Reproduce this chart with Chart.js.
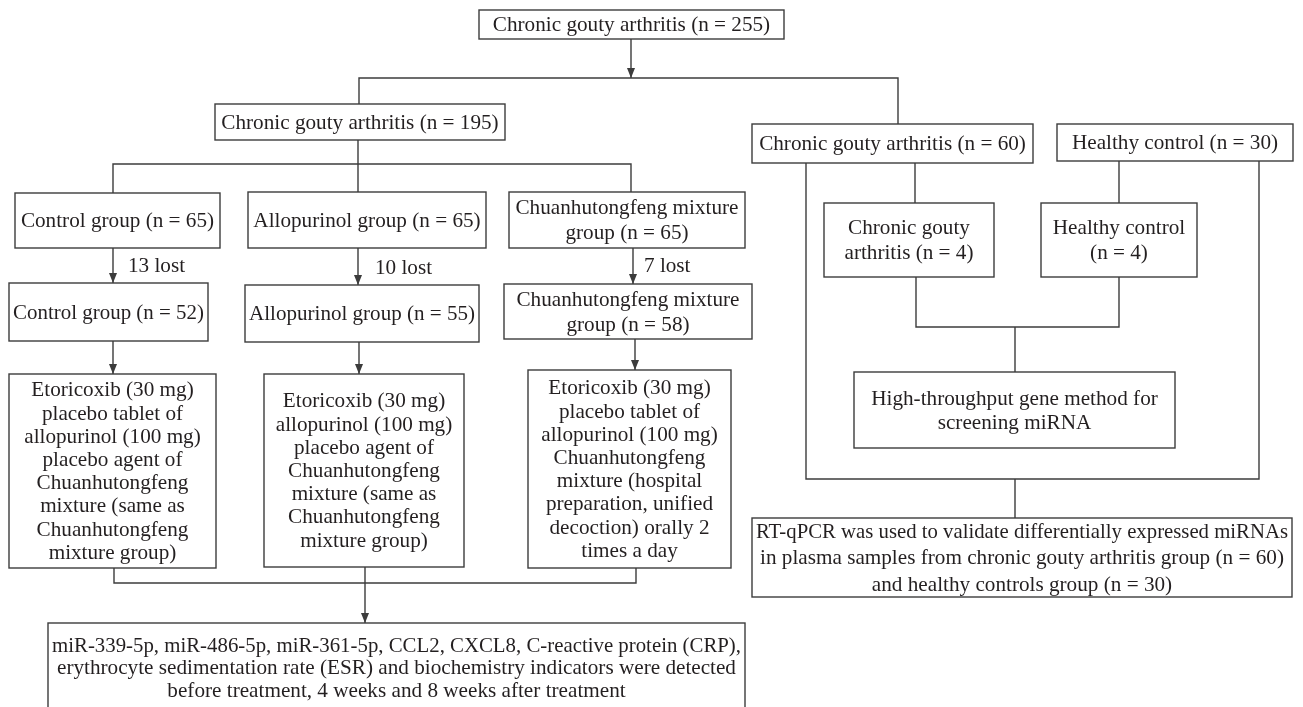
<!DOCTYPE html>
<html>
<head>
<meta charset="utf-8">
<script src="https://cdn.jsdelivr.net/npm/chart.js@4/dist/chart.umd.min.js"></script>
<style>
  body { margin: 0; background: #fff; }
  #flow { display: block; }
</style>
</head>
<body>
<canvas id="flow" width="1303" height="707"></canvas>
<script>
// 흐름도 데이터
var groups = ["Control group", "Allopurinol group", "Chuanhutongfeng mixture group"];
var enrolled = [65, 65, 65];
var lost = [13, 10, 7];
var completed = [52, 55, 58];
var totalN = 255;
var trialN = 195;
var screenGroups = ["Chronic gouty arthritis", "Healthy control"];
var screenN = [60, 30];
var seqN = [4, 4];

var INK = "#231f20";
var LINE = "#3c3c3c";
var FONT = "21.2px 'Liberation Serif', 'DejaVu Serif', serif";

function nTxt(n) { return "(n = " + n + ")"; }

// boxes: x0, x1, y0, y1 in diagram units, text lines, line height
var boxes = [
  { x0: 479, x1: 784, y0: 10, y1: 39, lines: ["Chronic gouty arthritis " + nTxt(totalN)] },
  { x0: 215, x1: 505, y0: 104, y1: 140, lines: ["Chronic gouty arthritis " + nTxt(trialN)] },
  { x0: 752, x1: 1033, y0: 124, y1: 163, lines: [screenGroups[0] + " " + nTxt(screenN[0])] },
  { x0: 1057, x1: 1293, y0: 124, y1: 161, lines: [screenGroups[1] + " " + nTxt(screenN[1])] },

  { x0: 15, x1: 220, y0: 193, y1: 248, lines: [groups[0] + " " + nTxt(enrolled[0])] },
  { x0: 248, x1: 486, y0: 192, y1: 248, lines: [groups[1] + " " + nTxt(enrolled[1])] },
  { x0: 509, x1: 745, y0: 192, y1: 248, lh: 25, lines: ["Chuanhutongfeng mixture", "group " + nTxt(enrolled[2])] },

  { x0: 9, x1: 208, y0: 283, y1: 341, lines: [groups[0] + " " + nTxt(completed[0])] },
  { x0: 245, x1: 479, y0: 285, y1: 342, lines: [groups[1] + " " + nTxt(completed[1])] },
  { x0: 504, x1: 752, y0: 284, y1: 339, lh: 25, lines: ["Chuanhutongfeng mixture", "group " + nTxt(completed[2])] },

  { x0: 9, x1: 216, y0: 374, y1: 568, lh: 23.2, lines: ["Etoricoxib (30 mg)", "placebo tablet of", "allopurinol (100 mg)", "placebo agent of",
      "Chuanhutongfeng", "mixture (same as", "Chuanhutongfeng", "mixture group)"] },
  { x0: 264, x1: 464, y0: 374, y1: 567, lh: 23.2, lines: ["Etoricoxib (30 mg)", "allopurinol (100 mg)", "placebo agent of",
      "Chuanhutongfeng", "mixture (same as", "Chuanhutongfeng", "mixture group)"] },
  { x0: 528, x1: 731, y0: 370, y1: 568, lh: 23.2, lines: ["Etoricoxib (30 mg)", "placebo tablet of", "allopurinol (100 mg)",
      "Chuanhutongfeng", "mixture (hospital", "preparation, unified", "decoction) orally 2", "times a day"] },

  { x0: 824, x1: 994, y0: 203, y1: 277, lh: 25, lines: ["Chronic gouty", "arthritis " + nTxt(seqN[0])] },
  { x0: 1041, x1: 1197, y0: 203, y1: 277, lh: 25, lines: ["Healthy control", nTxt(seqN[1])] },
  { x0: 854, x1: 1175, y0: 372, y1: 448, lh: 24, lines: ["High-throughput gene method for", "screening miRNA"] },
  { x0: 752, x1: 1292, y0: 518, y1: 597, lh: 26.5, lines: ["RT-qPCR was used to validate differentially expressed miRNAs",
      "in plasma samples from chronic gouty arthritis group " + nTxt(screenN[0]),
      "and healthy controls group " + nTxt(screenN[1])] },
  { x0: 48, x1: 745, y0: 623, y1: 712, lh: 22.5, lines: ["miR-339-5p, miR-486-5p, miR-361-5p, CCL2, CXCL8, C-reactive protein (CRP),",
      "erythrocyte sedimentation rate (ESR) and biochemistry indicators were detected",
      "before treatment, 4 weeks and 8 weeks after treatment"] }
];

// connectors (arrow: true -> arrowhead at last point)
var links = [
  { pts: [[631, 39], [631, 78]], arrow: true },
  { pts: [[359, 104], [359, 78], [898, 78], [898, 124]] },
  { pts: [[358, 140], [358, 164]] },
  { pts: [[113, 193], [113, 164], [631, 164], [631, 192]] },
  { pts: [[358, 164], [358, 192]] },
  { pts: [[113, 248], [113, 283]], arrow: true },
  { pts: [[358, 248], [358, 285]], arrow: true },
  { pts: [[633, 248], [633, 284]], arrow: true },
  { pts: [[113, 341], [113, 374]], arrow: true },
  { pts: [[359, 342], [359, 374]], arrow: true },
  { pts: [[635, 339], [635, 370]], arrow: true },
  { pts: [[114, 568], [114, 583], [636, 583], [636, 568]] },
  { pts: [[365, 567], [365, 623]], arrow: true },
  { pts: [[806, 163], [806, 479], [1259, 479], [1259, 161]] },
  { pts: [[915, 163], [915, 203]] },
  { pts: [[1119, 161], [1119, 203]] },
  { pts: [[916, 277], [916, 327], [1119, 327], [1119, 277]] },
  { pts: [[1015, 327], [1015, 372]] },
  { pts: [[1015, 479], [1015, 518]] }
];

var lostLabels = [
  { x: 128, y: 266 },
  { x: 375, y: 268 },
  { x: 644, y: 266 }
];

var datasets = links.map(function (l) {
  return {
    data: l.pts.map(function (p) { return { x: p[0], y: p[1] }; }),
    showLine: true,
    borderColor: LINE,
    borderWidth: 1.4,
    pointRadius: 0,
    fill: false,
    tension: 0,
    arrow: !!l.arrow
  };
});

var flowPlugin = {
  id: "flow",
  afterDatasetsDraw: function (chart) {
    var ctx = chart.ctx;
    var xs = chart.scales.x, ys = chart.scales.y;
    var px = function (v) { return xs.getPixelForValue(v); };
    var py = function (v) { return ys.getPixelForValue(v); };
    ctx.save();

    // arrowheads
    ctx.fillStyle = LINE;
    chart.data.datasets.forEach(function (ds) {
      if (!ds.arrow) return;
      var a = ds.data[ds.data.length - 2], b = ds.data[ds.data.length - 1];
      var x = px(b.x), y = py(b.y);
      var dir = py(b.y) > py(a.y) ? 1 : -1;
      ctx.beginPath();
      ctx.moveTo(x, y);
      ctx.lineTo(x - 4, y - dir * 10);
      ctx.lineTo(x + 4, y - dir * 10);
      ctx.closePath();
      ctx.fill();
    });

    // boxes
    ctx.strokeStyle = LINE;
    ctx.lineWidth = 1.4;
    ctx.font = FONT;
    ctx.textAlign = "center";
    ctx.textBaseline = "middle";
    boxes.forEach(function (b) {
      var x0 = px(b.x0), x1 = px(b.x1), y0 = py(b.y0), y1 = py(b.y1);
      ctx.fillStyle = "#fff";
      ctx.fillRect(x0, y0, x1 - x0, y1 - y0);
      ctx.strokeRect(x0, y0, x1 - x0, y1 - y0);
      ctx.fillStyle = INK;
      var lh = b.lh || 24;
      var cy = (y0 + y1) / 2 - (b.lines.length - 1) * lh / 2;
      var cx = (x0 + x1) / 2;
      var maxW = (x1 - x0) - 8;
      b.lines.forEach(function (t, i) {
        ctx.fillText(t, cx, cy + i * lh + 1, maxW);
      });
    });

    // lost labels
    ctx.textAlign = "left";
    ctx.fillStyle = INK;
    lostLabels.forEach(function (p, i) {
      ctx.fillText(lost[i] + " lost", px(p.x), py(p.y));
    });
    ctx.restore();
  }
};

var context = document.getElementById("flow").getContext("2d");
var flowChart = new Chart(context, {
  type: "scatter",
  data: { datasets: datasets },
  options: {
    responsive: false,
    animation: false,
    layout: { padding: 0 },
    plugins: { legend: { display: false }, tooltip: { enabled: false } },
    scales: {
      x: { type: "linear", min: 0, max: 1303, display: false },
      y: { type: "linear", min: 0, max: 707, reverse: true, display: false }
    }
  },
  plugins: [flowPlugin]
});
</script>
</body>
</html>
